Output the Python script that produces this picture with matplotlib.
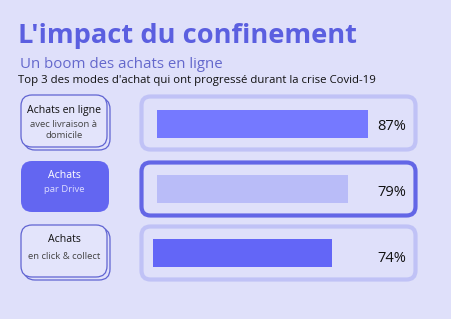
import matplotlib.pyplot as plt
from matplotlib.patches import FancyBboxPatch

# data
modes = ["Achats en ligne", "Achats", "Achats"]
details = [["avec livraison à", "domicile"], ["par Drive"], ["en click & collect"]]
values = [87, 79, 74]
value_labels = ["87%", "79%", "74%"]

BG = "#dfe0fa"
INDIGO = "#5b5fe0"
bar_colors = ["#7579ff", "#b9bcf8", "#6366f7"]
frame_colors = ["#c0c2f6", "#6366e6", "#c0c2f6"]

plt.rcParams['font.family'] = ['Open Sans', 'DejaVu Sans']

fig = plt.figure(figsize=(4.51, 3.19), dpi=100)
fig.patch.set_facecolor(BG)
ax = fig.add_axes([0, 0, 1, 1])
ax.set_xlim(0, 451)
ax.set_ylim(319, 0)
ax.axis('off')

#titles
ax.text(18, 43, "L'impact du confinement", fontsize=19.6, fontweight='bold',
        color=INDIGO, va='baseline')
ax.text(20.5, 68, "Un boom des achats en ligne", fontsize=10.8, color="#6468cc",
        va='baseline')
ax.text(18, 83, "Top 3 des modes d'achat qui ont progressé durant la crise Covid-19",
        fontsize=8.2, color="#111111", va='baseline')

#rows layout
row_top = [95, 161, 225]
row_h = [52, 51, 52]
bar_left = [157, 157, 153]
bar_y = [123.5, 188.5, 253]
scale = 2.42
head_base = [112.5, 177.5, 241.5]
sub_base = [[127, 138.5], [192], [259]]
pct_base = [130.5, 196, 262.5]

for i in range(3):
    # left label box
    if i == 1:
        ax.add_patch(FancyBboxPatch((21, row_top[i]), 88, row_h[i],
                     boxstyle="round,pad=0,rounding_size=11",
                     fc="#6366f1", ec="none"))
        c1, c2 = "white", "#dcdcff"
    else:
        ax.add_patch(FancyBboxPatch((24, row_top[i] + 3), 86, row_h[i],
                     boxstyle="round,pad=0,rounding_size=11",
                     fc=BG, ec="#6064d2", lw=0.9))
        ax.add_patch(FancyBboxPatch((21, row_top[i]), 86, row_h[i],
                     boxstyle="round,pad=0,rounding_size=11",
                     fc="#e3e4fb", ec="#6064d2", lw=0.9))
        c1, c2 = "#111111", "#444444"
    cx = 64
    ax.text(cx, head_base[i], modes[i], fontsize=7.6, color=c1,
            ha='center', va='baseline')
    for t, yb in zip(details[i], sub_base[i]):
        ax.text(cx, yb, t, fontsize=6.8, color=c2, ha='center', va='baseline')

    # right frame
    ax.add_patch(FancyBboxPatch((141.5, row_top[i] + 1.5), 274, 53,
                 boxstyle="round,pad=0,rounding_size=9",
                 fc="none", ec=frame_colors[i], lw=3))

ax.barh(bar_y, [v * scale for v in values], height=28, left=bar_left,
        color=bar_colors)
for i in range(3):
    ax.text(406, pct_base[i], value_labels[i], fontsize=10.5, color="#111111",
            ha='right', va='baseline')

fig.savefig("out.png", dpi=100, facecolor=BG)
